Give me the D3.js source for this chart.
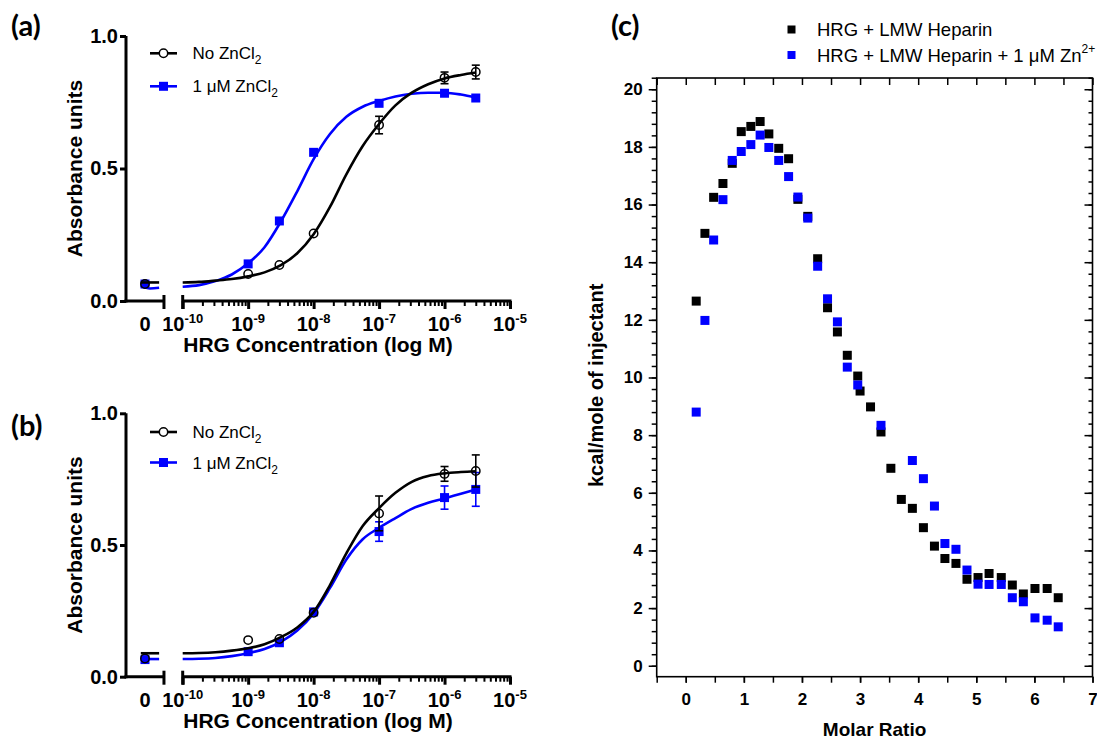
<!DOCTYPE html>
<html>
<head>
<meta charset="utf-8">
<script src="https://cdn.jsdelivr.net/npm/d3@7"></script>
<style>
  body { margin: 0; background: #fff; }
  svg { display: block; }
</style>
</head>
<body>
<svg id="fig" width="1097" height="740"></svg>
<script>
// ---------------- data ----------------
// HRG concentrations (M); 0 = no HRG added
const concentrations = [0, 1e-9, 3e-9, 1e-8, 1e-7, 1e-6, 3e-6];

// (a) absorbance
const aNoZn     = [0.064, 0.102, 0.136, 0.255, 0.664, 0.842, 0.864];
const aNoZnErr  = [0, 0, 0, 0, 0.033, 0.022, 0.026];
const aZn       = [0.064, 0.140, 0.302, 0.561, 0.746, 0.784, 0.766];
const aZnErr    = [0, 0, 0, 0, 0, 0, 0];

// (b) absorbance
const bNoZn     = [0.069, 0.139, 0.143, 0.243, 0.620, 0.770, 0.781];
const bNoZnErr  = [0, 0, 0, 0, 0.066, 0.028, 0.061];
const bZn       = [0.065, 0.095, 0.129, 0.246, 0.551, 0.680, 0.711];
const bZnErr    = [0, 0, 0, 0, 0.037, 0.044, 0.064];

// fitted curves, sampled along log10(concentration)
const fitLogs = [-10, -9.75, -9.5, -9.25, -9, -8.75, -8.5, -8.25, -8, -7.75,
                 -7.5, -7.25, -7, -6.75, -6.5, -6.25, -6, -5.75, -5.52];
const aNoZnFit = [0.070, 0.072, 0.077, 0.083, 0.093, 0.108, 0.135, 0.180, 0.252, 0.355,
                  0.478, 0.585, 0.668, 0.738, 0.786, 0.818, 0.840, 0.853, 0.862];
const aZnFit   = [0.054, 0.060, 0.075, 0.100, 0.142, 0.203, 0.300, 0.414, 0.535, 0.630,
                  0.695, 0.733, 0.755, 0.772, 0.782, 0.786, 0.786, 0.779, 0.767];
const bNoZnFit = [0.089, 0.090, 0.093, 0.099, 0.108, 0.123, 0.150, 0.187, 0.246, 0.348,
                  0.468, 0.572, 0.640, 0.698, 0.740, 0.762, 0.772, 0.777, 0.780];
const bZnFit   = [0.067, 0.068, 0.071, 0.078, 0.089, 0.105, 0.132, 0.175, 0.240, 0.337,
                  0.445, 0.522, 0.565, 0.602, 0.637, 0.660, 0.677, 0.695, 0.711];

// fitted baseline across the "0" segment of the broken axis
const zeroFitLogs  = [-10.64, -10.5, -10.36];
const aNoZnFitZero = [0.070, 0.070, 0.070];
const aZnFitZero   = [0.057, 0.047, 0.050];
const bNoZnFitZero = [0.089, 0.089, 0.089];
const bZnFitZero   = [0.067, 0.067, 0.067];

const doseYTicks = [0, 0.5, 1.0];
const doseDecades = [-10, -9, -8, -7, -6, -5];
const doseLegend = ["No ZnCl", "1 \u03BCM ZnCl"];

// (c) ITC: molar ratio vs kcal/mole of injectant
const ratioHep = [0.18, 0.33, 0.48, 0.64, 0.80, 0.955, 1.12, 1.28, 1.43, 1.60, 1.77, 1.93,
                  2.10, 2.27, 2.44, 2.61, 2.78, 2.96, 3.00, 3.18, 3.36, 3.53, 3.71, 3.90,
                  4.09, 4.28, 4.46, 4.65, 4.84, 5.03, 5.22, 5.43, 5.62, 5.81, 6.01, 6.22, 6.41];
const heatHep  = [12.65, 15.0, 16.25, 16.73, 17.43, 18.53, 18.71, 18.88, 18.45, 17.95, 17.59, 16.18,
                  15.59, 14.12, 12.42, 11.58, 10.77, 10.05, 9.53, 8.98, 8.11, 6.85, 5.77, 5.46,
                  4.79, 4.15, 3.72, 3.55, 3.0, 3.06, 3.20, 3.06, 2.80, 2.49, 2.68, 2.68, 2.36];
const ratioHepZn = [0.18, 0.33, 0.48, 0.64, 0.80, 0.955, 1.12, 1.28, 1.43, 1.60, 1.77, 1.93,
                    2.10, 2.27, 2.44, 2.61, 2.78, 2.96, 3.36, 3.90, 4.09, 4.28, 4.46, 4.65,
                    4.84, 5.03, 5.22, 5.43, 5.62, 5.81, 6.01, 6.22, 6.41];
const heatHepZn  = [8.8, 11.98, 14.77, 16.17, 17.53, 17.84, 18.08, 18.41, 17.98, 17.53, 16.97, 16.26,
                    15.53, 13.86, 12.73, 11.93, 10.36, 9.74, 8.34, 7.12, 6.49, 5.54, 4.24, 4.04,
                    3.32, 2.83, 2.82, 2.82, 2.36, 2.22, 1.66, 1.58, 1.35];
const itcLegend = ["HRG + LMW Heparin", "HRG + LMW Heparin + 1 \u03BCM Zn"];

// ---------------- drawing ----------------
const svg = d3.select("#fig");
svg.append("rect").attr("width", 1097).attr("height", 740).attr("fill", "#fff");

const FONT = '"Liberation Sans", Arial, Helvetica, sans-serif';
const LETTER_FONT = 'Lato, "Open Sans", sans-serif';
const BLUE = "#0000ff";

function styleText(sel, size, weight) {
  sel.attr("font-family", FONT).attr("font-size", size)
     .attr("font-weight", weight || "normal").attr("fill", "#000");
}

// broken log axis: "0" is placed left of the break
const AXIS_MIN_LOG = -10.866, BREAK_LOG = -10.286, ZERO_LOG = -10.576;
const xDose = d3.scaleLinear().domain([AXIS_MIN_LOG, -5]).range([126, 510]);
const logOf = c => (c === 0 ? ZERO_LOG : Math.log10(c));

function dosePanel(p) {
  const g = svg.append("g");
  const y = d3.scaleLinear().domain([0, 1]).range([p.bottom, p.top]);
  const yb = p.bottom;

  // y axis
  const ya = g.append("g").attr("transform", `translate(${xDose(AXIS_MIN_LOG)},0)`)
    .call(d3.axisLeft(y).tickValues(doseYTicks).tickSize(6).tickSizeOuter(0)
      .tickPadding(2).tickFormat(d3.format(".1f")));
  ya.select(".domain").attr("stroke-width", 3).attr("d", `M0,${yb + 1.5}V${p.top}`);
  ya.selectAll(".tick line").attr("stroke-width", 3);
  styleText(ya.selectAll("text"), 20, "bold");

  // x axis (two segments with a break)
  const xa = g.append("g").attr("transform", `translate(0,${yb})`);
  const seg = (a, b) => xa.append("line").attr("x1", a).attr("x2", b)
      .attr("y1", 0).attr("y2", 0).attr("stroke", "#000").attr("stroke-width", 3);
  seg(xDose(AXIS_MIN_LOG) - 1.5, xDose(BREAK_LOG));
  seg(xDose(-10), xDose(-5) + 1.5);
  [BREAK_LOG, -10].forEach(v => xa.append("line")
      .attr("x1", xDose(v)).attr("x2", xDose(v)).attr("y1", -6).attr("y2", 8)
      .attr("stroke", "#000").attr("stroke-width", 3));
  const minor = [];
  for (let e = -10; e < -5; e++) for (let m = 2; m <= 9; m++) minor.push(e + Math.log10(m));
  const mi = xa.append("g").call(d3.axisBottom(xDose).tickValues(minor).tickSize(5).tickFormat(""));
  mi.select(".domain").remove();
  mi.selectAll("line").attr("stroke-width", 2);
  const ma = xa.append("g").call(d3.axisBottom(xDose).tickValues(doseDecades).tickSize(8).tickFormat(""));
  ma.select(".domain").remove();
  ma.selectAll("line").attr("stroke-width", 3);

  // x tick labels
  const lab = xa.selectAll("text.dec").data(doseDecades).join("text").attr("class", "dec")
    .attr("x", d => xDose(d)).attr("y", 30).attr("text-anchor", "middle");
  styleText(lab, 20, "bold");
  lab.append("tspan").text("10");
  lab.append("tspan").attr("font-size", 13).attr("dy", -8).text(d => String(d));
  const z = xa.append("text").attr("x", xDose(ZERO_LOG)).attr("y", 30)
    .attr("text-anchor", "middle").text("0");
  styleText(z, 20, "bold");

  // axis titles
  const xt = g.append("text").attr("x", 318).attr("y", yb + 51)
    .attr("text-anchor", "middle").text("HRG Concentration (log M)");
  styleText(xt, 21, "bold");
  const yt = g.append("text")
    .attr("transform", `translate(82,${(p.top + p.bottom) / 2}) rotate(-90)`)
    .attr("text-anchor", "middle").text("Absorbance units");
  styleText(yt, 21, "bold");

  const line = d3.line().x(d => xDose(d[0])).y(d => y(d[1])).curve(d3.curveMonotoneX);

  // series: blue first so black sits on top
  p.series.forEach(s => {
    g.append("path").datum(d3.zip(zeroFitLogs, s.fitZero)).attr("d", line)
      .attr("fill", "none").attr("stroke", s.color).attr("stroke-width", 2.6);
    g.append("path").datum(d3.zip(fitLogs, s.fit)).attr("d", line)
      .attr("fill", "none").attr("stroke", s.color).attr("stroke-width", 2.6);

    const pts = concentrations.map((c, i) => ({ x: logOf(c), v: s.values[i], e: s.err[i] }));
    const eb = g.append("g").selectAll("g").data(pts.filter(d => d.e > 0)).join("g")
      .attr("stroke", s.color).attr("stroke-width", 1.6);
    eb.append("line").attr("x1", d => xDose(d.x)).attr("x2", d => xDose(d.x))
      .attr("y1", d => y(d.v - d.e)).attr("y2", d => y(d.v + d.e));
    [-1, 1].forEach(sg => eb.append("line")
      .attr("x1", d => xDose(d.x) - 4).attr("x2", d => xDose(d.x) + 4)
      .attr("y1", d => y(d.v + sg * d.e)).attr("y2", d => y(d.v + sg * d.e)));

    if (s.marker === "square") {
      g.append("g").selectAll("rect").data(pts).join("rect")
        .attr("x", d => xDose(d.x) - 4.5).attr("y", d => y(d.v) - 4.5)
        .attr("width", 9).attr("height", 9).attr("fill", s.color);
    } else {
      g.append("g").selectAll("circle").data(pts).join("circle")
        .attr("cx", d => xDose(d.x)).attr("cy", d => y(d.v)).attr("r", 4.2)
        .attr("fill", "none").attr("stroke", s.color).attr("stroke-width", 1.5);
    }
  });

  // legend
  const legendRows = [
    { name: doseLegend[0], color: "#000", marker: "circle", dy: 0 },
    { name: doseLegend[1], color: BLUE, marker: "square", dy: p.legendGap }
  ];
  legendRows.forEach(r => {
    const ly = p.legendY + r.dy;
    g.append("line").attr("x1", 150).attr("x2", 177).attr("y1", ly).attr("y2", ly)
      .attr("stroke", r.color).attr("stroke-width", 2.6);
    if (r.marker === "square") {
      g.append("rect").attr("x", 163.5 - 4.5).attr("y", ly - 4.5).attr("width", 9).attr("height", 9)
        .attr("fill", r.color);
    } else {
      g.append("circle").attr("cx", 163.5).attr("cy", ly).attr("r", 4.2)
        .attr("fill", "#fff").attr("stroke", r.color).attr("stroke-width", 1.5);
    }
    const t = g.append("text").attr("x", 192.5).attr("y", ly + 6);
    styleText(t, 17);
    t.append("tspan").text(r.name);
    t.append("tspan").attr("font-size", 12).attr("dy", 5).text("2");
  });
}

dosePanel({
  top: 36, bottom: 301, legendY: 53.3, legendGap: 33,
  series: [
    { values: aZn, err: aZnErr, fit: aZnFit, fitZero: aZnFitZero, color: BLUE, marker: "square" },
    { values: aNoZn, err: aNoZnErr, fit: aNoZnFit, fitZero: aNoZnFitZero, color: "#000", marker: "circle" }
  ]
});
dosePanel({
  top: 413.3, bottom: 676.7, legendY: 432, legendGap: 30.5,
  series: [
    { values: bZn, err: bZnErr, fit: bZnFit, fitZero: bZnFitZero, color: BLUE, marker: "square" },
    { values: bNoZn, err: bNoZnErr, fit: bNoZnFit, fitZero: bNoZnFitZero, color: "#000", marker: "circle" }
  ]
});

// ---------------- (c) ITC panel ----------------
(function () {
  const g = svg.append("g");
  const L = 656.7, R = 1092.5, T = 78, B = 676.7;
  const x = d3.scaleLinear().domain([-0.5, 7]).range([L, R]);
  const y = d3.scaleLinear().domain([-0.38, 20.39]).range([B, T]);

  const xMinor = d3.range(-0.5, 7.01, 0.5);
  const xMajor = d3.range(0, 8, 1);
  const yMinor = d3.range(0, 20.41, 0.4);
  const yMajor = d3.range(0, 21, 2);

  function clean(sel, w) {
    sel.select(".domain").remove();
    sel.selectAll("line").attr("stroke-width", w || 1.5);
  }
  // left (outward) with labels
  const yl = g.append("g").attr("transform", `translate(${L},0)`);
  clean(yl.append("g").call(d3.axisLeft(y).tickValues(yMinor).tickSize(5).tickFormat("")));
  const ylm = yl.append("g").call(d3.axisLeft(y).tickValues(yMajor).tickSize(8).tickPadding(6)
    .tickFormat(d3.format("d")));
  clean(ylm);
  styleText(ylm.selectAll("text"), 17, "bold");
  // right (inward)
  const yr = g.append("g").attr("transform", `translate(${R},0)`);
  clean(yr.append("g").call(d3.axisLeft(y).tickValues(yMinor).tickSize(4).tickFormat("")));
  clean(yr.append("g").call(d3.axisLeft(y).tickValues(yMajor).tickSize(8).tickFormat("")));
  // bottom (outward) with labels
  const xb = g.append("g").attr("transform", `translate(0,${B})`);
  clean(xb.append("g").call(d3.axisBottom(x).tickValues(xMinor).tickSize(6).tickFormat("")));
  const xbm = xb.append("g").call(d3.axisBottom(x).tickValues(xMajor).tickSize(6).tickPadding(10)
    .tickFormat(d3.format("d")));
  clean(xbm);
  styleText(xbm.selectAll("text"), 17, "bold");
  // top (inward)
  const xt = g.append("g").attr("transform", `translate(0,${T})`);
  clean(xt.append("g").call(d3.axisBottom(x).tickValues(xMinor).tickSize(7).tickFormat("")));

  // frame
  g.append("rect").attr("x", L).attr("y", T).attr("width", R - L).attr("height", B - T)
    .attr("fill", "none").attr("stroke", "#000").attr("stroke-width", 1.6);

  // titles
  const xl = g.append("text").attr("x", (L + R) / 2).attr("y", 736)
    .attr("text-anchor", "middle").text("Molar Ratio");
  styleText(xl, 19, "bold");
  const ylab = g.append("text")
    .attr("transform", `translate(603,${(T + B) / 2 + 8}) rotate(-90)`)
    .attr("text-anchor", "middle").text("kcal/mole of injectant");
  styleText(ylab, 20, "bold");

  // points (Zn series drawn on top)
  const S = 9;
  g.append("g").selectAll("rect").data(d3.zip(ratioHep, heatHep)).join("rect")
    .attr("x", d => x(d[0]) - S / 2).attr("y", d => y(d[1]) - S / 2)
    .attr("width", S).attr("height", S).attr("fill", "#000");
  g.append("g").selectAll("rect").data(d3.zip(ratioHepZn, heatHepZn)).join("rect")
    .attr("x", d => x(d[0]) - S / 2).attr("y", d => y(d[1]) - S / 2)
    .attr("width", S).attr("height", S).attr("fill", BLUE);

  // legend
  [{ c: "#000", y: 29.5, sup: "" }, { c: BLUE, y: 55, sup: "2+" }].forEach((r, i) => {
    g.append("rect").attr("x", 791.5 - 4).attr("y", r.y - 4).attr("width", 8).attr("height", 8)
      .attr("fill", r.c);
    const t = g.append("text").attr("x", 817).attr("y", r.y + 6.5);
    styleText(t, 18.5);
    t.append("tspan").text(itcLegend[i]);
    if (r.sup) t.append("tspan").attr("font-size", 12).attr("dy", -9).text(r.sup);
  });
})();

// panel letters
[["(a)", 11, 36], ["(b)", 11, 436], ["(c)", 611, 36]].forEach(([s, px, py]) => {
  svg.append("text").attr("x", px).attr("y", py).attr("font-family", LETTER_FONT)
    .attr("font-weight", "bold").attr("font-size", 29).attr("fill", "#000").text(s);
});
</script>
</body>
</html>
